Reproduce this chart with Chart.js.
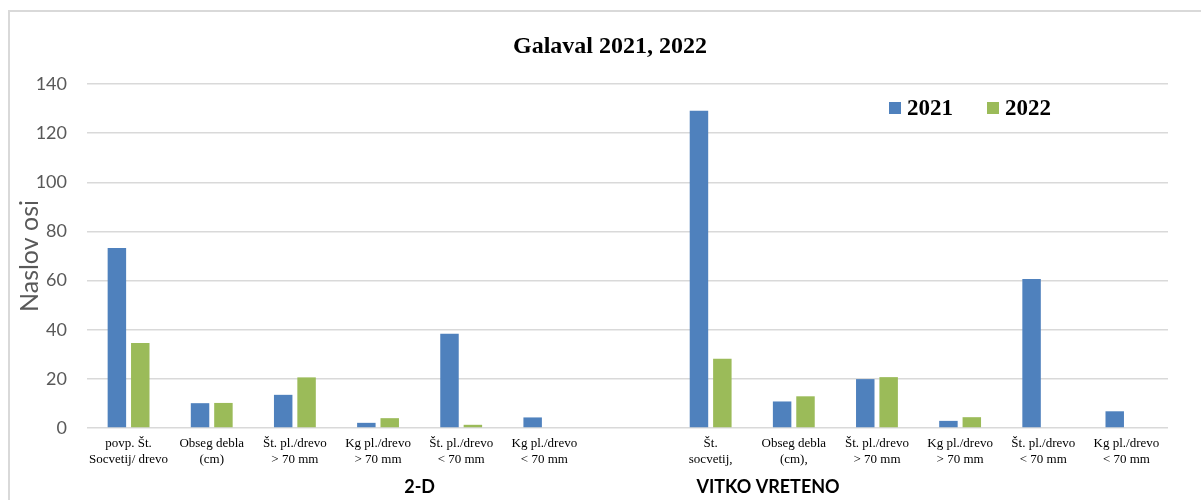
<!DOCTYPE html>
<html>
<head>
<meta charset="utf-8">
<title>Galaval 2021, 2022</title>
<script src="https://cdn.jsdelivr.net/npm/chart.js@4.4.1/dist/chart.umd.min.js"></script>
<style>
  html, body { margin: 0; padding: 0; background: #fff; overflow: hidden; width: 1201px; height: 501px; }
  #frame {
    position: absolute; left: 8px; top: 10px;
    width: 1200px; height: 488px;
    border-top: 2px solid #d9d9d9; border-left: 2px solid #d9d9d9;
  }
  canvas { display: block; }
</style>
</head>
<body>
<div id="frame"><canvas id="chart"></canvas></div>
<script>
// Measured traits per training system (2-D, VITKO VRETENO); one empty slot separates the two groups
const categories = [
  ['povp. Št.', 'Socvetij/ drevo'],
  ['Obseg debla', '(cm)'],
  ['Št. pl./drevo', '> 70 mm'],
  ['Kg pl./drevo', '> 70 mm'],
  ['Št. pl./drevo', '< 70 mm'],
  ['Kg pl./drevo', '< 70 mm'],
  '',
  ['Št.', 'socvetij,'],
  ['Obseg debla', '(cm),'],
  ['Št. pl./drevo', '> 70 mm'],
  ['Kg pl./drevo', '> 70 mm'],
  ['Št. pl./drevo', '< 70 mm'],
  ['Kg pl./drevo', '< 70 mm']
];
const values2021 = [73.3, 10.1, 13.5, 2.1, 38.4, 4.3, null, 129.1, 10.8, 19.9, 2.9, 60.6, 6.8];
const values2022 = [34.6, 10.2, 20.6, 4.0, 1.3, 0, null, 28.2, 12.9, 20.7, 4.4, 0, 0];
const yTickValues = [0, 20, 40, 60, 80, 100, 120, 140];
const groupNames = ['2-D', 'VITKO VRETENO'];

// Legend drawn in the upper right corner of the plot area
const cornerLegend = {
  id: 'cornerLegend',
  afterDraw(chart, args, opts) {
    const { ctx, chartArea } = chart;
    let x = chartArea.right - opts.offsetRight;
    const y = chartArea.top + opts.offsetTop;
    ctx.save();
    ctx.font = opts.font;
    ctx.textBaseline = 'middle';
    ctx.textAlign = 'left';
    chart.data.datasets.forEach(ds => {
      ctx.fillStyle = ds.backgroundColor;
      ctx.fillRect(x, y - opts.box / 2, opts.box, opts.box);
      ctx.fillStyle = opts.color;
      ctx.fillText(ds.label, x + opts.box + opts.gap, y + 1);
      x += opts.box + opts.gap + ctx.measureText(ds.label).width + opts.itemGap;
    });
    ctx.restore();
  }
};

// Second-level category labels under the tick labels
const groupLabels = {
  id: 'groupLabels',
  afterDraw(chart, args, opts) {
    const { ctx } = chart;
    const xs = chart.scales.x;
    ctx.save();
    ctx.font = opts.font;
    ctx.fillStyle = opts.color;
    ctx.textAlign = 'center';
    ctx.textBaseline = 'middle';
    groupNames.forEach((name, i) => {
      ctx.fillText(name, xs.getPixelForValue(opts.anchors[i]), xs.bottom - opts.fromBottom);
    });
    ctx.restore();
  }
};

new Chart(document.getElementById('chart'), {
  type: 'bar',
  data: {
    labels: categories,
    datasets: [
      { label: '2021', data: values2021, backgroundColor: '#4f81bd' },
      { label: '2022', data: values2022, backgroundColor: '#9bbb59' }
    ]
  },
  options: {
    responsive: true,
    maintainAspectRatio: false,
    animation: false,
    events: [],
    barPercentage: 0.79,
    categoryPercentage: 0.5625,
    layout: { padding: 0 },
    plugins: {
      legend: { display: false },
      tooltip: { enabled: false },
      title: {
        display: true,
        text: 'Galaval 2021, 2022',
        color: '#000',
        font: { family: '"Liberation Serif", "Times New Roman", serif', size: 24, weight: 'bold' },
        padding: { top: 20.6, bottom: 22.6 }
      },
      cornerLegend: {
        offsetRight: 279, offsetTop: 24, box: 12, gap: 6, itemGap: 34,
        color: '#000',
        font: 'bold 23px "Liberation Serif", "Times New Roman", serif'
      },
      groupLabels: {
        anchors: [3.5, 7.69],
        fromBottom: 13,
        color: '#000',
        font: 'bold 18px Lato, "Open Sans", sans-serif'
      }
    },
    scales: {
      x: {
        grid: { display: false },
        border: { display: false },
        ticks: {
          color: '#000',
          autoSkip: false,
          maxRotation: 0,
          minRotation: 0,
          padding: 0,
          font: { family: '"Liberation Serif", "Times New Roman", serif', size: 13, lineHeight: 1.2 }
        },
        afterFit(scale) { scale.height = 72; }
      },
      y: {
        min: 0,
        max: 140,
        afterBuildTicks(scale) { scale.ticks = yTickValues.map(v => ({ value: v })); },
        grid: { color: '#d9d9d9', lineWidth: 1.5, drawTicks: false },
        border: { display: false },
        ticks: {
          color: '#595959',
          padding: 20,
          font: { family: 'Lato, "Open Sans", sans-serif', size: 18 }
        },
        title: {
          display: true,
          text: 'Naslov osi',
          color: '#595959',
          padding: { top: 5, bottom: 0 },
          font: { family: 'Lato, "Open Sans", sans-serif', size: 25 }
        },
        afterFit(scale) { scale.width = 77; }
      },
      // empty margin on the right side of the plot
      yRight: {
        position: 'right',
        display: true,
        grid: { display: false },
        border: { display: false },
        ticks: { display: false },
        afterFit(scale) { scale.width = 42; }
      }
    }
  },
  plugins: [cornerLegend, groupLabels]
});
</script>
</body>
</html>
